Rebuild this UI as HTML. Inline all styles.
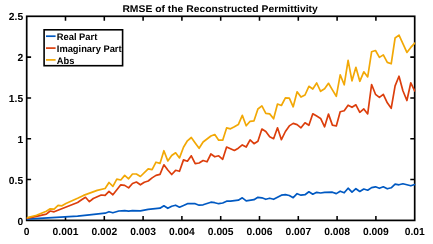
<!DOCTYPE html>
<html><head><meta charset="utf-8"><title>RMSE of the Reconstructed Permittivity</title>
<style>html,body{margin:0;padding:0;background:#fff;overflow:hidden}svg{display:block;filter:blur(0.4px)}text{font-family:"Liberation Sans",sans-serif;font-weight:bold;fill:#000;text-rendering:geometricPrecision}</style></head><body>
<svg width="433" height="244" viewBox="0 0 433 244">
<rect x="0" y="0" width="433" height="244" fill="#fff"/>
<defs><clipPath id="c"><rect x="26.7" y="16.3" width="388.8" height="204.1"/></clipPath></defs>
<g stroke="#000" stroke-width="1.70" fill="none" stroke-linecap="butt">
<rect x="26.70" y="16.30" width="388.00" height="204.10"/>
<path stroke-width="1.55" d="M65.50 220.40V216.00M65.50 16.30V20.70M104.30 220.40V216.00M104.30 16.30V20.70M143.10 220.40V216.00M143.10 16.30V20.70M181.90 220.40V216.00M181.90 16.30V20.70M220.70 220.40V216.00M220.70 16.30V20.70M259.50 220.40V216.00M259.50 16.30V20.70M298.30 220.40V216.00M298.30 16.30V20.70M337.10 220.40V216.00M337.10 16.30V20.70M375.90 220.40V216.00M375.90 16.30V20.70M26.70 179.58H31.10M414.70 179.58H410.30M26.70 138.76H31.10M414.70 138.76H410.30M26.70 97.94H31.10M414.70 97.94H410.30M26.70 57.12H31.10M414.70 57.12H410.30"/>
</g>
<g fill="none" stroke-width="1.70" stroke-linejoin="round" stroke-linecap="round" clip-path="url(#c)">
<polyline stroke="#0059C2" points="26.7,219.1 77.6,216.2 89.4,214.8 105.1,213.2 109.0,211.7 112.9,212.8 118.8,211.0 124.7,210.7 128.6,211.1 132.5,210.7 140.4,210.8 148.2,209.3 160.0,208.2 163.9,205.8 167.8,208.3 171.7,206.2 175.6,205.2 179.5,207.2 183.5,205.5 187.4,203.7 195.2,203.7 199.1,205.2 203.1,204.8 210.9,202.2 214.8,202.7 218.7,203.7 222.7,203.0 226.6,201.2 230.5,201.2 238.3,200.2 242.3,197.8 246.2,200.8 254.0,199.7 257.9,197.3 261.9,197.8 265.8,199.3 269.7,198.2 273.6,199.3 281.4,195.2 285.4,194.7 289.3,195.5 293.2,197.7 297.1,193.7 301.0,195.2 305.0,194.7 308.9,191.8 312.8,194.2 316.7,192.3 320.6,193.0 324.6,192.3 332.4,192.2 336.3,193.6 340.2,191.2 344.2,192.8 348.1,188.2 352.0,192.2 355.9,188.7 359.8,191.5 363.8,189.0 367.7,190.2 371.6,187.6 375.5,186.8 379.4,188.3 383.3,186.8 387.3,188.8 391.2,187.8 395.1,184.2 399.0,184.8 402.9,183.8 406.9,184.8 410.8,185.8 414.7,184.5"/>
<polyline stroke="#DC3E0C" points="26.7,218.3 36.5,216.3 46.3,214.2 50.2,211.0 54.1,211.8 77.6,202.5 81.6,199.8 85.5,197.3 89.4,201.7 93.3,198.5 101.2,195.0 105.1,195.4 109.0,191.3 112.9,194.8 120.8,184.8 124.7,185.4 128.6,187.9 132.5,183.5 136.4,182.0 140.4,184.8 144.3,182.2 148.2,181.0 152.1,177.9 156.0,175.4 160.0,174.4 163.9,164.8 167.8,170.0 171.7,174.5 175.6,170.3 179.5,171.3 183.5,159.9 187.4,161.2 191.3,155.8 195.2,163.7 199.1,163.0 203.1,160.5 207.0,161.8 210.9,154.0 214.8,156.8 218.7,155.8 222.7,159.3 226.6,147.0 230.5,148.8 234.4,150.5 238.3,148.2 242.3,144.9 246.2,147.0 250.1,139.9 254.0,143.7 257.9,141.2 261.9,129.0 265.8,131.5 269.7,136.8 273.6,138.7 277.5,127.8 281.4,139.7 285.4,131.5 289.3,125.9 293.2,123.4 297.1,124.6 301.0,127.8 305.0,122.8 308.9,125.3 312.8,113.8 316.7,116.1 320.6,118.4 324.6,126.8 328.5,114.1 332.4,125.1 336.3,126.0 340.2,111.8 344.2,110.8 348.1,105.2 352.0,107.3 355.9,104.8 359.8,112.3 363.8,108.9 367.7,113.9 371.6,84.5 375.5,94.3 379.4,97.3 383.3,94.3 387.3,102.8 391.2,108.3 395.1,85.9 399.0,76.2 402.9,90.8 406.9,100.5 410.8,82.8 414.7,90.8"/>
<polyline stroke="#F2A806" points="26.7,217.9 36.5,215.3 46.3,211.2 50.2,208.8 54.1,209.2 58.1,205.4 62.0,205.8 65.9,203.5 77.6,198.3 83.5,195.4 97.2,190.4 105.1,188.5 109.0,182.5 112.9,186.3 116.8,179.2 120.8,180.0 124.7,175.4 128.6,178.8 132.5,174.0 136.4,174.0 140.4,176.5 148.2,168.9 152.1,169.7 156.0,162.2 160.0,163.4 163.9,150.7 167.8,160.9 171.7,155.5 175.6,152.8 179.5,157.9 183.5,147.3 187.4,140.8 191.3,137.5 195.2,142.9 199.1,148.3 203.1,142.0 207.0,139.0 210.9,136.0 214.8,134.5 218.7,140.2 222.7,140.2 226.6,127.9 230.5,128.8 234.4,126.8 238.3,124.6 242.3,115.4 246.2,125.8 250.1,121.3 254.0,120.8 257.9,109.0 261.9,105.9 265.8,113.4 269.7,113.9 273.6,118.8 277.5,104.0 281.4,105.5 285.4,97.8 289.3,98.1 293.2,106.8 297.1,91.8 301.0,97.1 305.0,95.0 308.9,86.3 312.8,89.0 316.7,83.0 320.6,91.3 324.6,88.8 328.5,83.3 332.4,89.9 336.3,96.3 340.2,74.8 344.2,84.8 348.1,60.4 352.0,80.8 355.9,67.3 359.8,81.3 363.8,71.8 367.7,76.9 371.6,51.8 375.5,50.5 379.4,57.4 383.3,54.9 387.3,62.4 391.2,63.8 395.1,38.0 399.0,35.1 402.9,43.6 406.9,52.4 410.8,47.4 414.7,43.1"/>
</g>
<g font-size="10.30">
<text x="26.70" y="234.5" text-anchor="middle">0</text>
<text x="65.50" y="234.5" text-anchor="middle">0.001</text>
<text x="104.30" y="234.5" text-anchor="middle">0.002</text>
<text x="143.10" y="234.5" text-anchor="middle">0.003</text>
<text x="181.90" y="234.5" text-anchor="middle">0.004</text>
<text x="220.70" y="234.5" text-anchor="middle">0.005</text>
<text x="259.50" y="234.5" text-anchor="middle">0.006</text>
<text x="298.30" y="234.5" text-anchor="middle">0.007</text>
<text x="337.10" y="234.5" text-anchor="middle">0.008</text>
<text x="375.90" y="234.5" text-anchor="middle">0.009</text>
<text x="414.70" y="234.5" text-anchor="middle">0.01</text>
<text x="23.2" y="224.54" text-anchor="end">0</text>
<text x="23.2" y="183.89" text-anchor="end">0.5</text>
<text x="23.2" y="142.89" text-anchor="end">1</text>
<text x="23.2" y="101.99" text-anchor="end">1.5</text>
<text x="23.2" y="60.99" text-anchor="end">2</text>
<text x="23.2" y="20.09" text-anchor="end">2.5</text>
</g>
<text transform="translate(220.1,12.2) scale(1,0.94)" font-size="10.35" text-anchor="middle">RMSE of the Reconstructed Permittivity</text>
<rect x="44.1" y="29.8" width="78.5" height="35.9" fill="#fff" stroke="#000" stroke-width="1.6"/>
<g fill="none" stroke-width="1.70">
<path stroke="#0059C2" d="M46 36.2H55.6"/>
<path stroke="#DC3E0C" d="M46 48.1H55.6"/>
<path stroke="#F2A806" d="M46 59.9H55.6"/>
</g>
<g font-size="9.33">
<text transform="translate(56.8,40.1) scale(1,1.03)">Real Part</text>
<text transform="translate(56.8,52) scale(1,1.03)">Imaginary Part</text>
<text transform="translate(56.8,63.8) scale(1,1.03)">Abs</text>
</g>
</svg></body></html>
